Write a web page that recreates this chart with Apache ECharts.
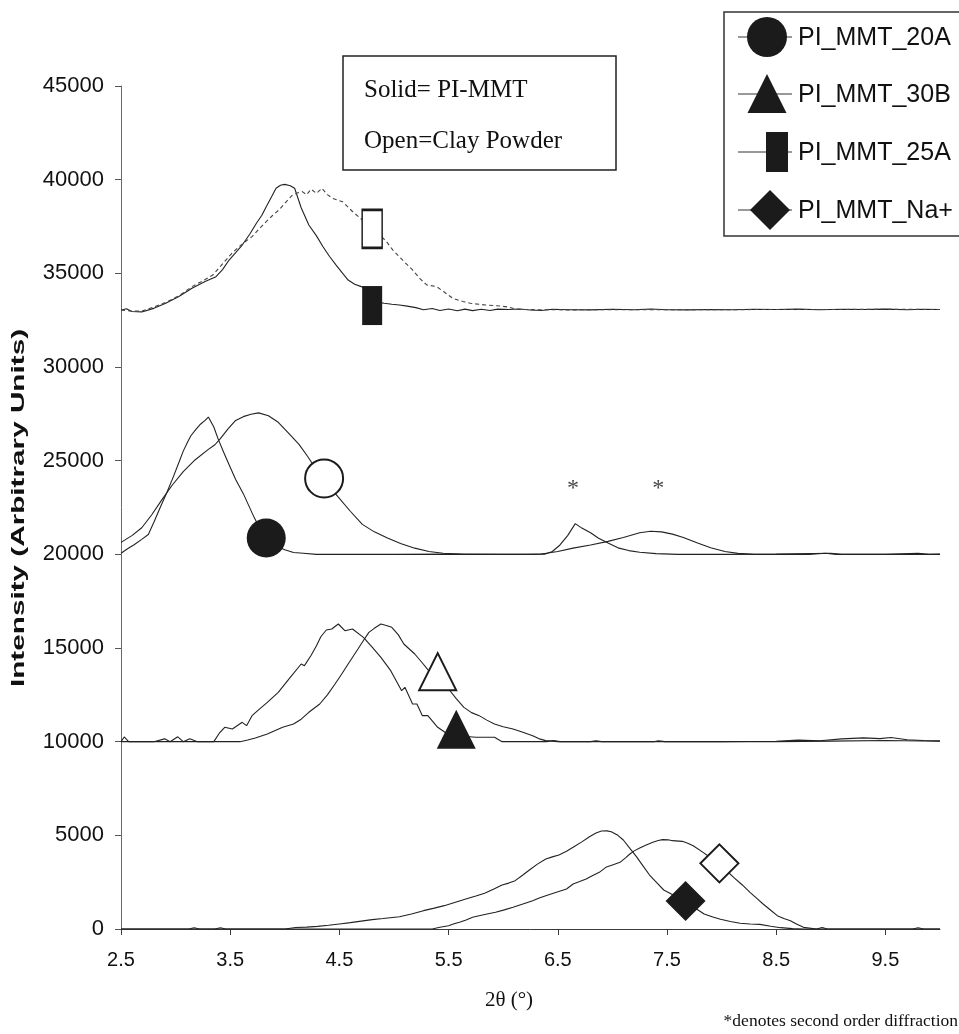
<!DOCTYPE html>
<html>
<head>
<meta charset="utf-8">
<script src="https://cdn.jsdelivr.net/npm/echarts@6/dist/echarts.min.js"></script>
<style>
html,body{margin:0;padding:0;background:#fff;}
#chart{width:959px;height:1034px;}
</style>
</head>
<body>
<div id="chart"></div>
<script>
// ---- tick labels ----
const xTicks = [2.5, 3.5, 4.5, 5.5, 6.5, 7.5, 8.5, 9.5];
const legendNames = ['PI_MMT_20A', 'PI_MMT_30B', 'PI_MMT_25A', 'PI_MMT_Na+'];

// ---- series values [2theta, intensity] ----
const pi25A = [[2.50,33030],[2.55,33110],[2.60,32960],[2.69,32940],[2.80,33130],[2.91,33400],[3.03,33760],[3.15,34200],[3.27,34560],[3.37,34820],[3.43,35200],[3.49,35710],[3.55,36100],[3.61,36510],[3.68,37100],[3.74,37670],[3.79,38100],[3.83,38560],[3.88,39100],[3.92,39540],[3.96,39700],[4.00,39750],[4.05,39680],[4.09,39540],[4.15,38500],[4.22,37580],[4.29,37000],[4.35,36420],[4.41,35900],[4.47,35440],[4.53,35000],[4.58,34640],[4.64,34420],[4.70,34290],[4.76,34200],[4.86,33450],[4.91,33400],[4.98,33350],[5.05,33310],[5.12,33250],[5.20,33170],[5.27,33060],[5.35,33120],[5.42,33020],[5.50,33100],[5.58,33000],[5.65,33090],[5.72,33010],[5.80,33080],[5.88,33020],[5.95,33090],[6.05,33070],[6.15,33100],[6.25,33040],[6.35,33020],[6.45,33080],[6.60,33060],[6.80,33050],[7.00,33080],[7.20,33060],[7.35,33100],[7.50,33060],[7.70,33050],[7.90,33070],[8.10,33060],[8.30,33080],[8.50,33070],[8.70,33090],[8.90,33060],[9.10,33080],[9.30,33070],[9.50,33090],[9.70,33060],[9.85,33080],[10.00,33070]];
const clay25A = [[2.50,33050],[2.60,32980],[2.70,33000],[2.80,33200],[2.91,33450],[3.03,33800],[3.15,34290],[3.25,34600],[3.34,34910],[3.40,35300],[3.46,35710],[3.52,36100],[3.58,36420],[3.64,36700],[3.70,36960],[3.77,37400],[3.83,37760],[3.89,38100],[3.95,38400],[4.01,38800],[4.07,39180],[4.12,39300],[4.16,39360],[4.20,39200],[4.24,39490],[4.29,39270],[4.34,39540],[4.39,39200],[4.44,39000],[4.53,38820],[4.62,38300],[4.71,37850],[4.79,37450],[4.87,37050],[4.93,36700],[4.99,36240],[5.08,35700],[5.17,35180],[5.24,34700],[5.30,34380],[5.39,34290],[5.46,34000],[5.54,33660],[5.63,33500],[5.70,33400],[5.84,33310],[5.97,33260],[6.05,33200],[6.12,33080],[6.30,33060],[6.60,33050],[7.00,33060],[7.50,33060],[8.00,33060],[8.50,33070],[9.00,33070],[9.50,33080],[10.00,33070]];
const pi20A = [[2.50,20060],[2.56,20300],[2.62,20510],[2.69,20800],[2.75,21060],[2.80,21700],[2.86,22510],[2.92,23300],[2.98,24150],[3.03,24900],[3.07,25510],[3.11,26000],[3.14,26330],[3.19,26700],[3.23,26960],[3.27,27150],[3.30,27330],[3.35,26800],[3.39,26150],[3.44,25450],[3.49,24780],[3.55,24000],[3.62,23240],[3.67,22600],[3.72,21960],[3.78,21300],[3.84,20800],[3.92,20450],[4.00,20240],[4.08,20100],[4.17,20060],[4.29,20000],[4.60,20000],[5.00,20000],[5.50,20010],[6.00,20000],[6.20,20000],[6.38,20010],[6.45,20150],[6.52,20500],[6.59,21000],[6.66,21640],[6.72,21400],[6.80,21150],[6.87,20870],[6.96,20600],[7.06,20330],[7.15,20200],[7.25,20110],[7.40,20040],[7.60,20000],[8.00,20000],[8.50,20010],[9.00,20060],[9.10,20000],[9.50,20000],[9.80,20050],[9.90,20000],[10.00,20010]];
const clay20A = [[2.50,20640],[2.60,21000],[2.69,21420],[2.78,22100],[2.88,22960],[2.97,23700],[3.07,24420],[3.18,25050],[3.30,25600],[3.36,25850],[3.41,26180],[3.48,26700],[3.55,27150],[3.62,27350],[3.69,27480],[3.76,27550],[3.85,27400],[3.94,27050],[4.03,26500],[4.13,25870],[4.20,25300],[4.26,24780],[4.36,24050],[4.42,23550],[4.49,23050],[4.60,22300],[4.71,21600],[4.82,21200],[4.94,20870],[5.06,20580],[5.19,20330],[5.32,20150],[5.45,20055],[5.64,20000],[5.90,20000],[6.20,20000],[6.35,20020],[6.50,20150],[6.64,20330],[6.80,20500],[6.96,20690],[7.10,20900],[7.25,21150],[7.35,21230],[7.45,21200],[7.55,21080],[7.65,20900],[7.78,20600],[7.90,20350],[8.03,20150],[8.15,20050],[8.30,20000],[8.80,20000],[8.95,20060],[9.05,20000],[9.50,20000],[10.00,20000]];
const pi30B = [[2.50,10000],[2.53,10250],[2.57,10000],[2.80,10000],[2.90,10150],[2.95,10000],[3.02,10260],[3.07,10000],[3.13,10160],[3.20,10000],[3.35,10000],[3.40,10450],[3.45,10766],[3.52,10677],[3.61,11033],[3.65,10855],[3.70,11389],[3.77,11750],[3.84,12100],[3.94,12634],[4.05,13434],[4.15,14146],[4.18,14057],[4.24,14600],[4.29,15125],[4.33,15600],[4.38,15961],[4.43,16014],[4.49,16281],[4.55,15925],[4.62,16014],[4.72,15569],[4.80,15050],[4.88,14502],[4.97,13790],[5.07,12723],[5.10,12901],[5.17,12011],[5.21,12011],[5.26,11389],[5.31,11389],[5.40,10766],[5.49,10410],[5.60,10300],[5.75,10232],[5.92,10232],[5.99,10000],[6.40,10000],[6.46,10060],[6.52,10000],[6.80,10000],[6.85,10050],[6.90,10000],[7.38,10000],[7.42,10050],[7.48,10000],[8.00,10000],[8.50,10020],[8.70,10080],[8.90,10050],[9.10,10150],[9.30,10200],[9.45,10160],[9.55,10220],[9.70,10100],[9.85,10060],[10.00,10040]];
const clay30B = [[2.50,10000],[3.59,10000],[3.66,10090],[3.73,10196],[3.84,10410],[3.98,10766],[4.08,10944],[4.15,11200],[4.22,11567],[4.32,12011],[4.39,12500],[4.46,13079],[4.52,13600],[4.58,14146],[4.67,14947],[4.72,15400],[4.77,15836],[4.82,16050],[4.88,16281],[4.93,16200],[4.98,16103],[5.04,15700],[5.09,15213],[5.19,14680],[5.26,14200],[5.33,13701],[5.41,13250],[5.50,12812],[5.57,12300],[5.64,11833],[5.71,11550],[5.78,11389],[5.85,11150],[5.92,10944],[6.00,10800],[6.09,10677],[6.18,10500],[6.27,10321],[6.33,10150],[6.39,10054],[6.50,10000],[7.00,10000],[8.00,10000],[8.50,10000],[9.00,10030],[9.50,10060],[10.00,10020]];
const piNa = [[2.50,0],[3.12,0],[3.17,70],[3.22,0],[3.36,0],[3.41,70],[3.46,0],[4.00,0],[4.10,80],[4.20,100],[4.30,140],[4.40,200],[4.50,270],[4.60,340],[4.70,420],[4.80,500],[4.90,560],[5.05,658],[5.16,800],[5.27,979],[5.36,1100],[5.46,1246],[5.57,1440],[5.68,1637],[5.75,1760],[5.83,1904],[5.91,2120],[5.99,2349],[6.05,2450],[6.11,2580],[6.18,2880],[6.24,3149],[6.31,3450],[6.39,3736],[6.45,3850],[6.51,3950],[6.58,4150],[6.64,4359],[6.72,4650],[6.79,4928],[6.85,5120],[6.90,5230],[6.95,5240],[6.99,5195],[7.05,5000],[7.10,4750],[7.16,4300],[7.22,3860],[7.28,3370],[7.34,2882],[7.41,2450],[7.47,2082],[7.57,1780],[7.67,1495],[7.75,1150],[7.84,801],[7.92,640],[7.99,516],[8.08,400],[8.17,303],[8.26,270],[8.35,249],[8.45,150],[8.54,71],[8.65,20],[8.75,0],[9.00,0],[9.50,0],[10.00,0]];
const clayNa = [[2.50,0],[5.00,0],[5.35,0],[5.42,90],[5.50,178],[5.55,280],[5.60,356],[5.66,480],[5.72,623],[5.82,760],[5.93,890],[6.01,1020],[6.09,1157],[6.18,1330],[6.27,1513],[6.33,1650],[6.39,1780],[6.48,1950],[6.58,2135],[6.64,2402],[6.70,2530],[6.76,2669],[6.82,2850],[6.88,3025],[6.94,3292],[7.00,3420],[7.07,3559],[7.12,3800],[7.16,4004],[7.20,4170],[7.25,4324],[7.31,4480],[7.37,4626],[7.42,4720],[7.46,4769],[7.51,4760],[7.55,4715],[7.64,4679],[7.69,4580],[7.74,4448],[7.83,4092],[7.90,3800],[7.98,3505],[8.04,3150],[8.11,2758],[8.19,2350],[8.26,1957],[8.32,1650],[8.38,1335],[8.45,1000],[8.51,712],[8.57,560],[8.63,445],[8.69,250],[8.75,89],[8.87,0],[8.92,80],[8.97,0],[9.75,0],[9.80,70],[9.85,0],[10.00,0]];

// ---- marker positions on the curves ----
const solidCircle = [[3.83,20870]];
const openCircle = [[4.36,24050]];
const solidTriangle = [[5.57,10660]];
const openTriangle = [[5.40,13737]];
const solidRect = [[4.80,33280]];
const openRect = [[4.80,37370]];
const solidDiamond = [[7.67,1495]];
const openDiamond = [[7.98,3505]];
const asterisks = [[6.64,23850],[7.42,23850]];

const INK = '#1b1b1b';
const lineSeries = (name, data, dashed) => ({
  name, type: 'line', data, showSymbol: false, symbol: 'none', z: 2,
  lineStyle: { color: dashed ? '#444' : '#222', width: 1.1, type: dashed ? [4, 3] : 'solid', opacity: 1 },
  animation: false, silent: true
});
const markerSeries = (name, data, symbol, size, open) => ({
  name, type: 'scatter', data, symbol, symbolSize: size, z: 5, animation: false, silent: true,
  itemStyle: open ? { color: '#fff', borderColor: INK, borderWidth: 2, opacity: 1 } : { color: INK, opacity: 1 }
});

const chart = echarts.init(document.getElementById('chart'), null, { renderer: 'canvas' });

const legendRows = [37, 94, 152, 210];
const legendX = 738, legendW = 54, textX = 798;

const option = {
  animation: false,
  backgroundColor: '#fff',
  grid: { left: 121, right: 19, top: 86, bottom: 105, containLabel: false },
  xAxis: {
    type: 'value', min: 2.5, max: 10, interval: 1,
    axisLine: { show: true, onZero: false, lineStyle: { color: '#3a3a3a', width: 1 } },
    axisTick: { show: true, inside: false, length: 6, customValues: xTicks, lineStyle: { color: '#3a3a3a' } },
    axisLabel: { customValues: xTicks, margin: 21, fontSize: 20, color: '#111', fontFamily: 'Liberation Sans' },
    splitLine: { show: false }
  },
  yAxis: {
    type: 'value', min: 0, max: 45000, interval: 5000,
    axisLine: { show: true, onZero: false, lineStyle: { color: '#6a6a6a', width: 1 } },
    axisTick: { show: true, inside: false, length: 6, lineStyle: { color: '#555' } },
    axisLabel: { margin: 17, fontSize: 22, color: '#111', fontFamily: 'Liberation Sans', formatter: v => String(v) },
    splitLine: { show: false }
  },
  series: [
    lineSeries('PI_MMT_25A', pi25A, false),
    lineSeries('Clay 25A', clay25A, true),
    lineSeries('PI_MMT_20A', pi20A, false),
    lineSeries('Clay 20A', clay20A, false),
    lineSeries('PI_MMT_30B', pi30B, false),
    lineSeries('Clay 30B', clay30B, false),
    lineSeries('PI_MMT_Na+', piNa, false),
    lineSeries('Clay Na+', clayNa, false),
    markerSeries('PI_MMT_20A marker', solidCircle, 'circle', 39, false),
    markerSeries('Clay 20A marker', openCircle, 'circle', 38, true),
    markerSeries('PI_MMT_30B marker', solidTriangle, 'triangle', [39, 39], false),
    markerSeries('Clay 30B marker', openTriangle, 'triangle', [37, 37], true),
    markerSeries('PI_MMT_25A marker', solidRect, 'rect', [20, 39], false),
    markerSeries('Clay 25A marker', openRect, 'rect', [20, 38], true),
    markerSeries('PI_MMT_Na+ marker', solidDiamond, 'diamond', [40, 40], false),
    markerSeries('Clay Na+ marker', openDiamond, 'diamond', [38, 38], true),
    {
      name: 'second order', type: 'scatter', data: asterisks, symbol: 'circle', symbolSize: 2,
      itemStyle: { color: 'rgba(0,0,0,0)' }, z: 6, silent: true,
      label: { show: true, position: 'inside', formatter: '*', fontSize: 24, color: '#111',
               fontFamily: 'Liberation Serif', offset: [0, 6] }
    }
  ],
  graphic: [
    // annotation box
    { type: 'rect', shape: { x: 343, y: 56, width: 273, height: 114 },
      style: { fill: '#fff', stroke: '#222', lineWidth: 1.5 }, z: 10 },
    { type: 'text', x: 364, y: 90, z: 11,
      style: { text: 'Solid= PI-MMT', font: '25px "Liberation Serif"', fill: '#111', textVerticalAlign: 'middle' } },
    { type: 'text', x: 364, y: 141, z: 11,
      style: { text: 'Open=Clay Powder', font: '25px "Liberation Serif"', fill: '#111', textVerticalAlign: 'middle' } },
    // legend box
    { type: 'rect', shape: { x: 724, y: 12, width: 245, height: 224 },
      style: { fill: '#fff', stroke: '#333', lineWidth: 1.5 }, z: 10 },
    ...legendRows.map(y => ({ type: 'line', shape: { x1: legendX, y1: y, x2: legendX + legendW, y2: y },
      style: { stroke: '#333', lineWidth: 1 }, z: 11 })),
    { type: 'circle', shape: { cx: 767, cy: legendRows[0], r: 20 }, style: { fill: INK }, z: 12 },
    { type: 'polygon', shape: { points: [[767, legendRows[1] - 20], [786.5, legendRows[1] + 19], [747.5, legendRows[1] + 19]] }, style: { fill: INK }, z: 12 },
    { type: 'rect', shape: { x: 766, y: legendRows[2] - 20, width: 22, height: 40 }, style: { fill: INK }, z: 12 },
    { type: 'polygon', shape: { points: [[770, legendRows[3] - 20], [790, legendRows[3]], [770, legendRows[3] + 20], [750, legendRows[3]]] }, style: { fill: INK }, z: 12 },
    ...legendNames.map((n, i) => ({ type: 'text', x: textX, y: legendRows[i] + 1, z: 12,
      style: { text: n, font: '25px "Liberation Sans"', fill: '#111', textVerticalAlign: 'middle' } })),
    // y axis title (stretched as in the original)
    { type: 'text', x: 19, y: 508, rotation: Math.PI / 2, scaleX: 1.65, z: 12,
      style: { text: 'Intensity (Arbitrary Units)', font: 'bold 18px "Liberation Sans"', fill: '#111',
               textAlign: 'center', textVerticalAlign: 'middle' } },
    // x axis title
    { type: 'text', x: 509, y: 1000, z: 12,
      style: { text: '2θ (°)', font: '21px "Liberation Serif"', fill: '#111', textAlign: 'center', textVerticalAlign: 'middle' } },
    { type: 'text', x: 958, y: 1021, z: 12,
      style: { text: '*denotes second order diffraction', font: '17.5px "Liberation Serif"', fill: '#111', textAlign: 'right', textVerticalAlign: 'middle' } }
  ]
};
chart.setOption(option);
</script>
</body>
</html>
